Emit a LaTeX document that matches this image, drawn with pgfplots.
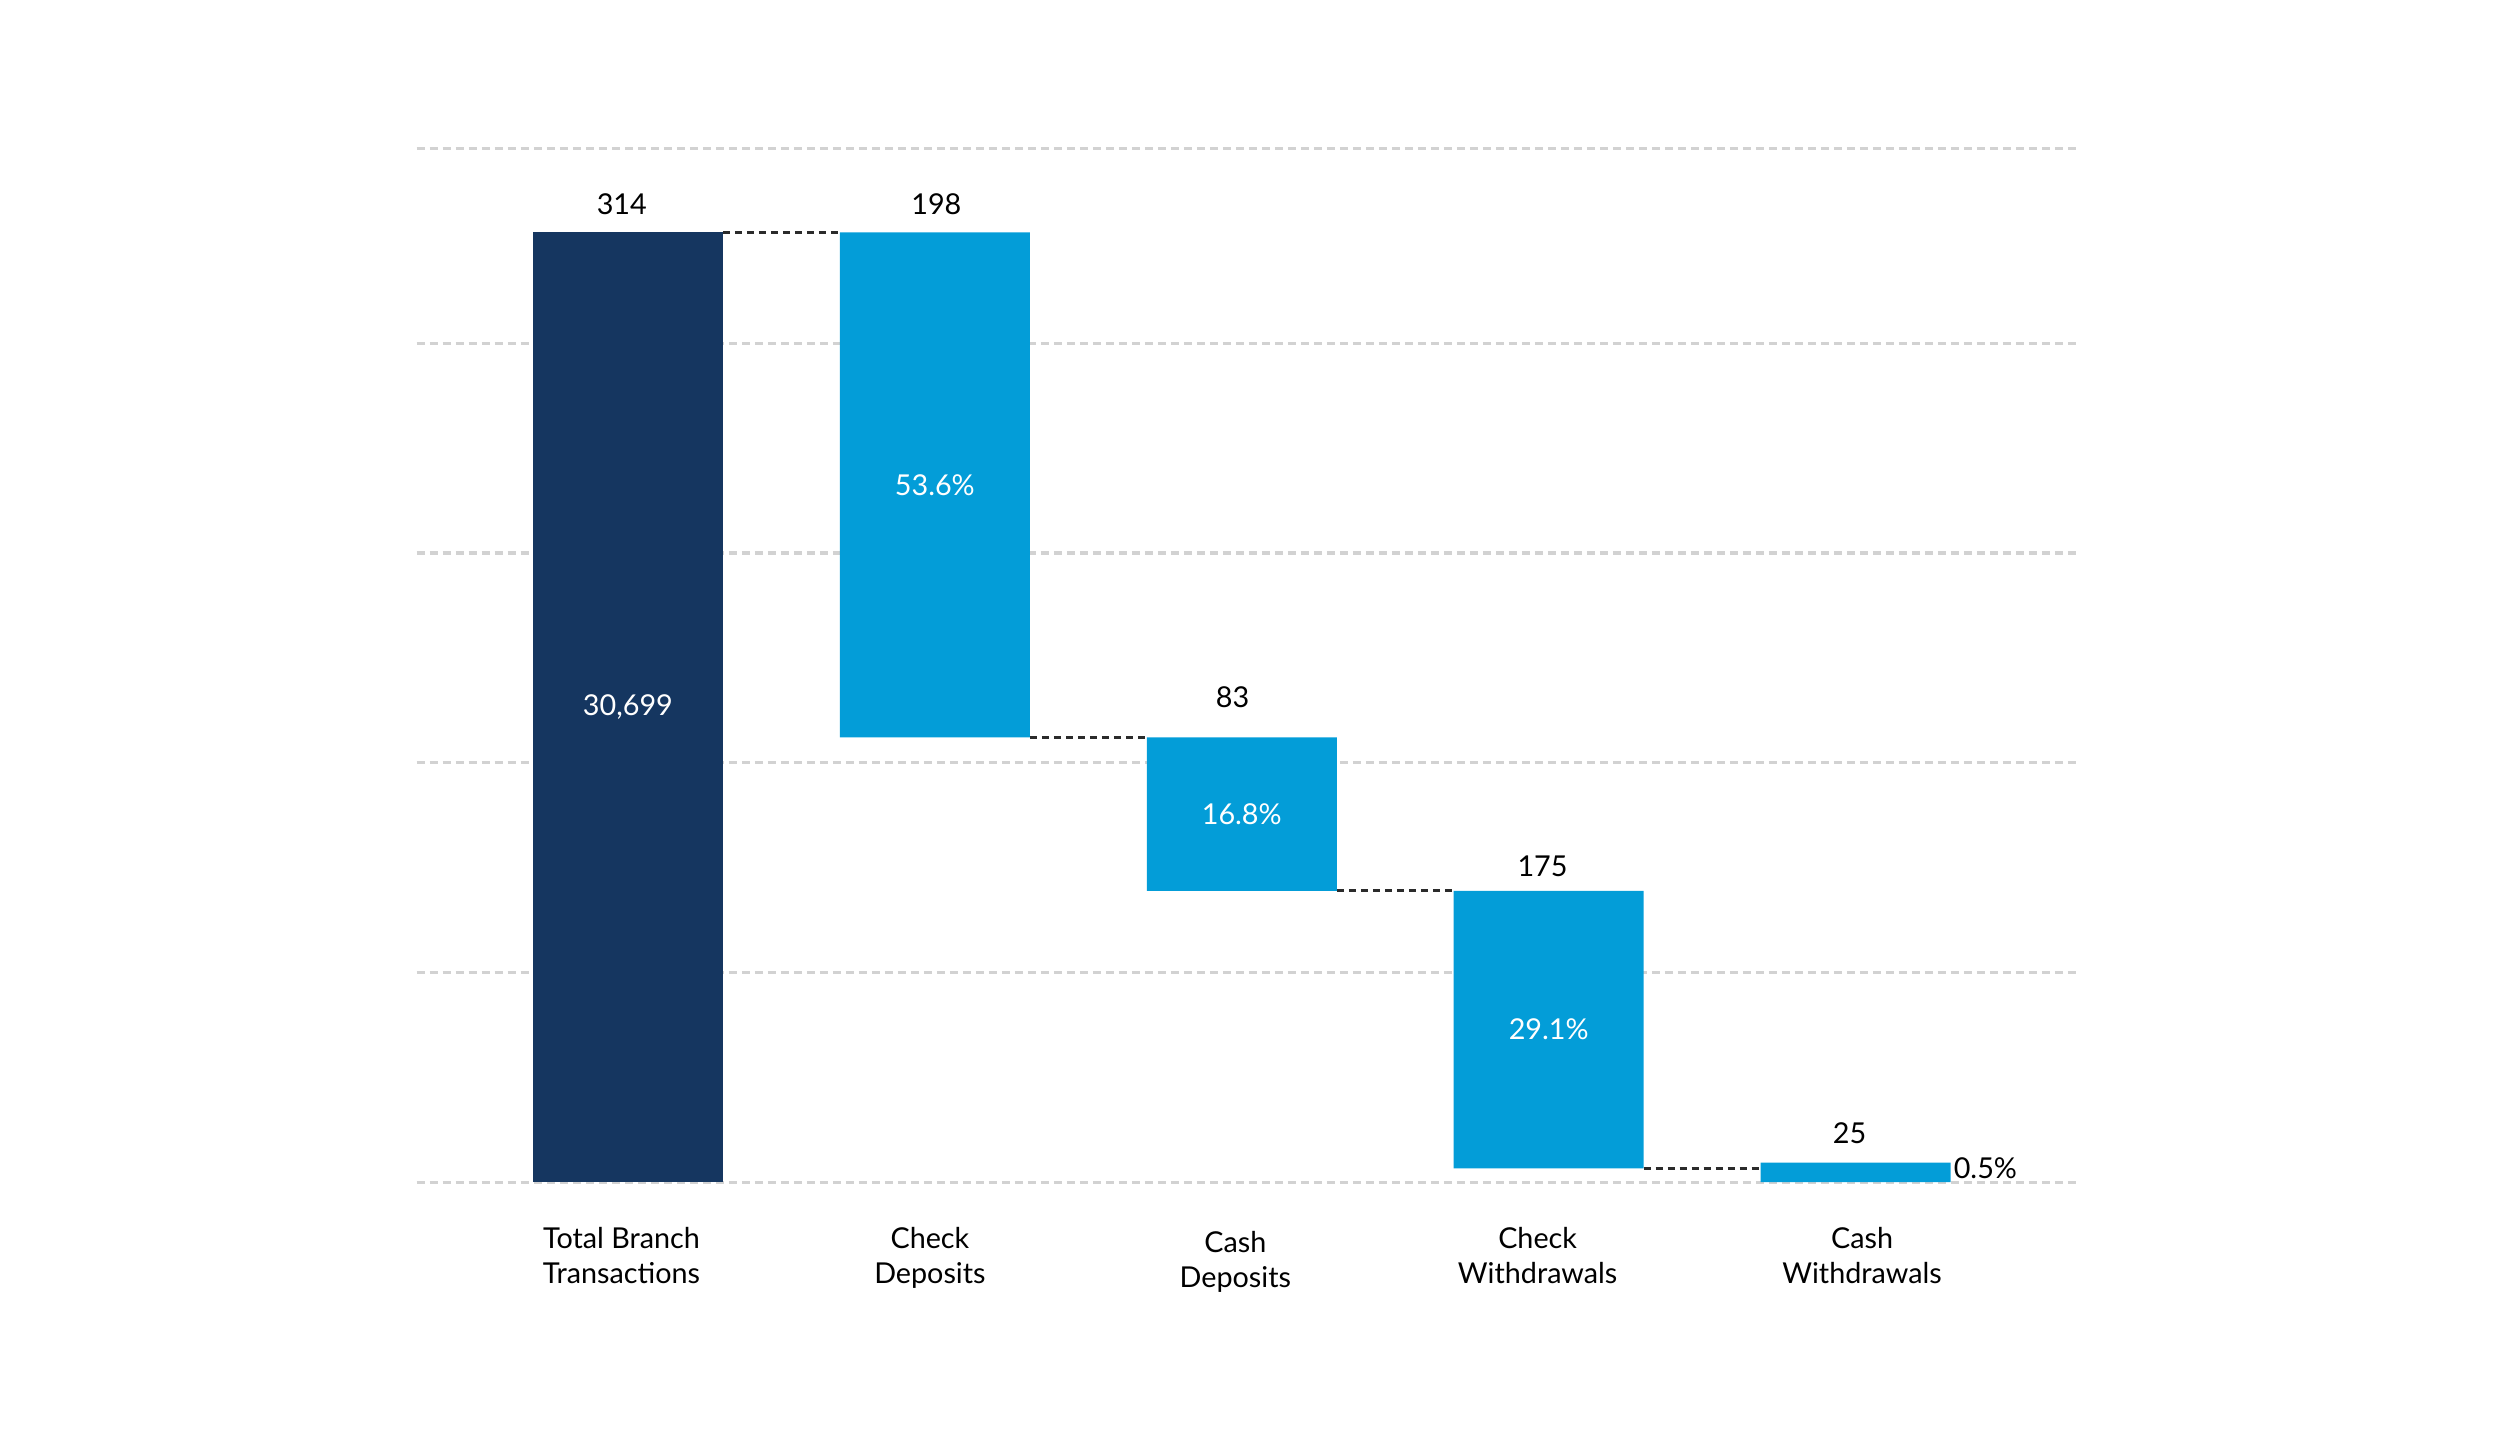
\documentclass[border=0pt]{standalone}
\usepackage{pgfplots}
\pgfplotsset{compat=1.18}
\usepackage{fontspec}
\setmainfont{Lato}
\definecolor{navy}{HTML}{153660}
\definecolor{skyblue}{HTML}{039DD8}
\definecolor{gridgray}{HTML}{D2D2D2}
\definecolor{connector}{HTML}{2B2B2B}

\begin{document}
\begin{tikzpicture}[font=\fontsize{11.5}{14}\selectfont]
\begin{axis}[
	scale only axis,
	width=665.3pt, height=413.4pt,
	xmin=-0.688, xmax=4.731,
	ymin=0, ymax=108.8,
	axis line style={draw=none},
	major tick length=0pt,
	ytick={0,22.08,44.16,66.24,88.32,108.8},
	yticklabels={},
	ymajorgrids,
	grid style={gridgray, line width=1.3pt, dash pattern=on 3.2pt off 2pt},
	xtick={-0.021,0.984,1.979,2.964,4.021},
	xticklabels={{Total Branch\\Transactions},{Check\\Deposits},{\rule{0pt}{10pt}Cash\\Deposits},{Check\\Withdrawals},{Cash\\Withdrawals}},
	xticklabel style={align=center, inner sep=0pt, yshift=-18pt, text=black},
	bar width=0.619,
]
% dashed connectors between bars
\addplot[connector, line width=1.2pt, dash pattern=on 2.8pt off 2pt, forget plot] coordinates {(0.3095,100) (0.6905,100)};
\addplot[connector, line width=1.2pt, dash pattern=on 2.8pt off 2pt, forget plot] coordinates {(1.3095,46.84) (1.6905,46.84)};
\addplot[connector, line width=1.2pt, dash pattern=on 2.8pt off 2pt, forget plot] coordinates {(2.3095,30.66) (2.6905,30.66)};
\addplot[connector, line width=1.2pt, dash pattern=on 2.8pt off 2pt, forget plot] coordinates {(3.3095,1.47) (3.6905,1.47)};

% waterfall: invisible base + visible parts
\addplot[ybar stacked, fill=none, draw=none] coordinates {(0,0) (1,46.84) (2,30.66) (3,1.47) (4,0)};
\addplot[ybar stacked, fill=navy, draw=none] coordinates {(0,100) (1,0) (2,0) (3,0) (4,0)};
\addplot[ybar stacked, fill=skyblue, draw=none] coordinates {(0,0) (1,53.16) (2,16.18) (3,29.19) (4,2.06)};

% labels above bars
\node[anchor=base] at (axis cs:-0.02,101.9) {314};
\node[anchor=base] at (axis cs:1.005,101.9) {198};
\node[anchor=base] at (axis cs:1.97,50.0) {83};
\node[anchor=base] at (axis cs:2.98,32.2) {175};
\node[anchor=base] at (axis cs:3.98,4.1) {25};

% labels inside bars
\node[text=white] at (axis cs:0,50) {30,699};
\node[text=white] at (axis cs:1,73.4) {53.6\%};
\node[text=white] at (axis cs:2,38.7) {16.8\%};
\node[text=white] at (axis cs:3,16.1) {29.1\%};
\node[anchor=base west, inner sep=1pt] at (axis cs:4.31,0.42) {0.5\%};

\coordinate (sw) at (rel axis cs:0,0);
\coordinate (ne) at (rel axis cs:1,1);
\end{axis}
\pgfresetboundingbox
\path[use as bounding box] ([shift={(-166.7pt,-109.5pt)}]sw) rectangle ([shift={(168pt,59.5pt)}]ne);
\end{tikzpicture}
\end{document}
